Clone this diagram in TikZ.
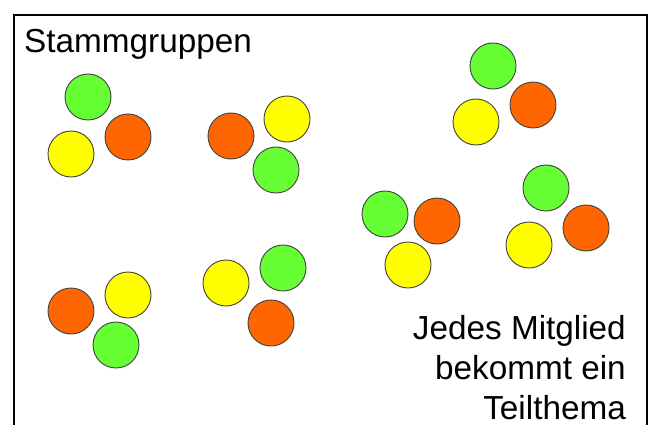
\documentclass[tikz,border=0pt]{standalone}
\usepackage{fontspec}
\setmainfont{Liberation Sans}
\usetikzlibrary{positioning}

\definecolor{gruen}{HTML}{66FF33}
\definecolor{orangerot}{HTML}{FF6600}
\definecolor{gelb}{HTML}{FFFF00}

\tikzset{
    kugel/.style={circle, draw=black!75, line width=0.9pt, minimum size=46pt, inner sep=0pt},
    kgr/.style={kugel, fill=gruen},
    kor/.style={kugel, fill=orangerot},
    kge/.style={kugel, fill=gelb},
    schrift/.style={inner sep=0pt, font=\fontsize{33.3}{40}\selectfont}
}

\begin{document}
\begin{tikzpicture}[x=1pt, y=-1pt]
    \useasboundingbox (0,0) rectangle (660,425);
    % Rahmen, unten offen
    \draw[line width=2pt] (14,425) -- (14,15) -- (647,15) -- (647,425);

    \node[schrift, anchor=base west] (titel) at (24,53) {Stammgruppen};

    % Gruppe 1
    \node[kgr] (g1) at (88,97) {};
    \node[kor] (o1) at (128,137) {};
    \node[kge] (y1) at (71,154) {};
    % Gruppe 2
    \node[kor] (o2) at (231,136) {};
    \node[kge] (y2) at (287,119) {};
    \node[kgr] (g2) at (276,170) {};
    % Gruppe 3
    \node[kgr] (g3) at (493,66) {};
    \node[kor] (o3) at (533,105) {};
    \node[kge] (y3) at (476,122) {};
    % Gruppe 4
    \node[kgr] (g4) at (546,188) {};
    \node[kor] (o4) at (586,228) {};
    \node[kge] (y4) at (529,245) {};
    % Gruppe 5
    \node[kgr] (g5) at (385,214) {};
    \node[kor] (o5) at (437,221) {};
    \node[kge] (y5) at (408,265) {};
    % Gruppe 6
    \node[kor] (o6) at (71,311) {};
    \node[kge] (y6) at (128,295) {};
    \node[kgr] (g6) at (116,345) {};
    % Gruppe 7
    \node[kge] (y7) at (226,283) {};
    \node[kgr] (g7) at (283,268) {};
    \node[kor] (o7) at (271,323) {};

    % base = Grundlinie der letzten Zeile
    \node[schrift, anchor=base east, align=right] (hinweis) at (626,419)
        {Jedes Mitglied\\bekommt ein\\Teilthema};
\end{tikzpicture}
\end{document}
